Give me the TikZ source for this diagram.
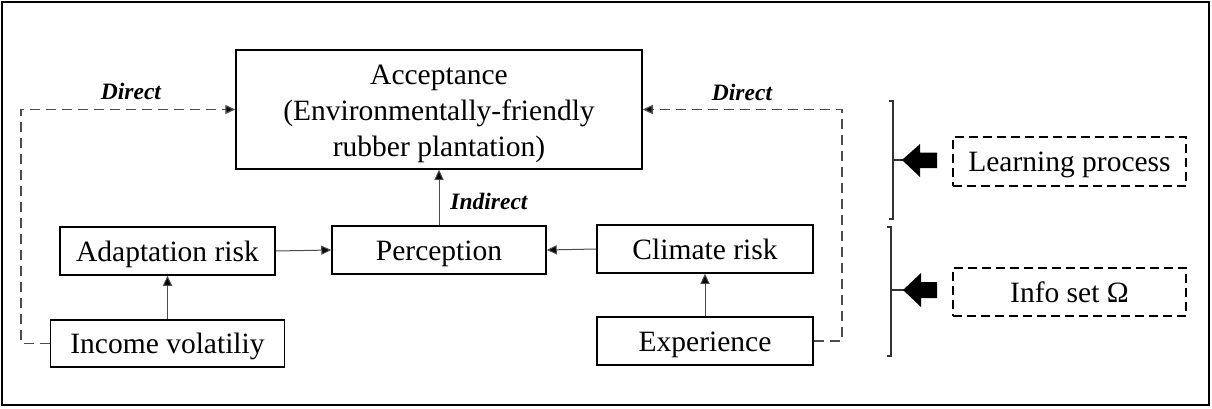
\documentclass[tikz,border=0pt]{standalone}
\usepackage{fontspec}
\setmainfont{Liberation Serif}
\usetikzlibrary{arrows.meta}
\begin{document}
\begin{tikzpicture}[x=1pt,y=-1pt,
  box/.style={draw,line width=1.5pt,rectangle,inner sep=0pt,align=center,
    text height=23pt,text depth=3pt,
    font=\fontsize{29.5}{36}\selectfont},
  dbox/.style={box,line width=1.3pt,dash pattern=on 9pt off 5pt},
  txt/.style={inner sep=0pt,align=center,font=\fontsize{29.5}{36}\selectfont},
  conn/.style={line width=1pt,draw=black!70,-{Triangle[length=10pt,width=9pt,fill=black]}},
  dconn/.style={conn,line width=1.3pt,dash pattern=on 10pt off 6pt},
  lbl/.style={font=\fontsize{23.5}{26}\selectfont\bfseries\itshape},
  brk/.style={line width=1.3pt,draw=black!80},
  blk/.style={fill=black,draw=none}]
\useasboundingbox (0,0) rectangle (1212,409);
\draw[line width=2.5pt] (2,2) rectangle (1209,405);

\node[draw,line width=1.5pt,rectangle,inner sep=0pt,minimum width=406pt,minimum height=119pt] (acc) at (439,109.5) {};
\node[txt] (acctext) at (439,114) {Acceptance\\(Environmentally-friendly\\rubber plantation)};
\node[box,minimum width=215pt,minimum height=48pt] (adapt) at (167.5,251) {Adaptation risk};
\node[box,minimum width=234pt,minimum height=47pt] (income) at (167.5,343.5) {Income volatiliy};
\node[box,minimum width=214pt,minimum height=48pt] (perc) at (439,250) {Perception};
\node[box,minimum width=216pt,minimum height=48pt] (climate) at (705,249) {Climate risk};
\node[box,minimum width=216pt,minimum height=48pt] (exper) at (705,341) {Experience};
\node[dbox,minimum width=233pt,minimum height=49pt] (learn) at (1069.5,161.5) {Learning process};
\node[dbox,minimum width=233pt,minimum height=48pt] (info) at (1069.5,292) {Info set Ω};

\coordinate (lcorner) at (21,343.5);
\coordinate (rcorner) at (842,341);
\draw[dconn] (income.west) -- (lcorner) |- (acc.west);
\draw[dconn] (exper.east) -- (rcorner) |- (acc.east);
\draw[conn] (income.north) -- (adapt.south);
\draw[conn] (adapt.east) -- (perc.west);
\draw[conn] (climate.west) -- (perc.east);
\draw[conn] (exper.north) -- (climate.south);
\draw[conn] (perc.north) -- (acc.south);

\node[lbl] (ldir) at (131,91) {Direct};
\node[lbl] (rdir) at (742,92) {Direct};
\node[lbl] (indir) at (489,201) {Indirect};

% brackets
\draw[brk] (889,101) -- (893,101) -- (893,219) -- (889,219);
\draw[brk] (893,160) -- (903,160);
\draw[brk] (887,227) -- (891,227) -- (891,356) -- (887,356);
\draw[brk] (891,290) -- (904,290);

% block arrows
\fill[blk] (902,160) -- (920,144) -- (920,152.5) -- (937,152.5) -- (937,168) -- (920,168) -- (920,177) -- cycle;
\fill[blk] (903,290) -- (921,273) -- (921,282) -- (937,282) -- (937,298) -- (921,298) -- (921,307) -- cycle;
\end{tikzpicture}
\end{document}
